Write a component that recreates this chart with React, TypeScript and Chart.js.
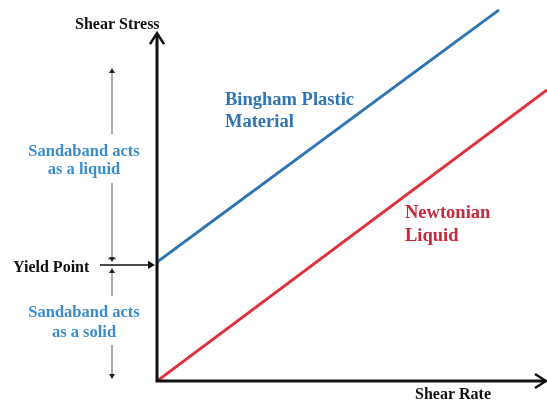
import React, { useEffect, useRef } from "react";
import { Chart, registerables } from "chart.js";

Chart.register(...registerables);

// Data (shear rate vs shear stress, arbitrary units)
const binghamRate = [0, 8.77];
const binghamStress = [3.12, 9.74];
const newtonianRate = [0, 10];
const newtonianStress = [0, 7.64];
const yieldPoint = 3.1;
const axisTop = 9.13;

const SERIF = "'Liberation Serif', 'Times New Roman', serif";
const BLUE = "#2f74b3";
const RED = "#e0303a";

function chevron(ctx: CanvasRenderingContext2D, x: number, y: number, dir: "up" | "right", w: number, h: number) {
  ctx.beginPath();
  if (dir === "up") {
    ctx.moveTo(x - w, y + h);
    ctx.lineTo(x, y);
    ctx.lineTo(x + w, y + h);
  } else {
    ctx.moveTo(x - h, y - w);
    ctx.lineTo(x, y);
    ctx.lineTo(x - h, y + w);
  }
  ctx.stroke();
}

function tri(ctx: CanvasRenderingContext2D, x: number, y: number, dir: "up" | "down" | "right", s: number) {
  ctx.beginPath();
  if (dir === "up") {
    ctx.moveTo(x, y);
    ctx.lineTo(x - s * 0.6, y + s);
    ctx.lineTo(x + s * 0.6, y + s);
  } else if (dir === "down") {
    ctx.moveTo(x, y);
    ctx.lineTo(x - s * 0.6, y - s);
    ctx.lineTo(x + s * 0.6, y - s);
  } else {
    ctx.moveTo(x, y);
    ctx.lineTo(x - s, y - s * 0.6);
    ctx.lineTo(x - s, y + s * 0.6);
  }
  ctx.closePath();
  ctx.fill();
}

const annotations = {
  id: "annotations",
  afterDraw(chart: any) {
    const ctx: CanvasRenderingContext2D = chart.ctx;
    const xs = chart.scales.x;
    const ys = chart.scales.y;
    const x0 = xs.getPixelForValue(0);
    const y0 = ys.getPixelForValue(0);
    const yTop = ys.getPixelForValue(axisTop);
    const xRight = chart.chartArea.right - 1;
    const yYield = ys.getPixelForValue(yieldPoint);
    ctx.save();
    // axes
    ctx.strokeStyle = "#111";
    ctx.lineWidth = 3;
    ctx.lineCap = "butt";
    ctx.beginPath();
    ctx.moveTo(x0, yTop + 2);
    ctx.lineTo(x0, y0);
    ctx.lineTo(xRight, y0);
    ctx.stroke();
    ctx.lineWidth = 2.5;
    chevron(ctx, x0, yTop, "up", 7, 11);
    chevron(ctx, xRight, y0, "right", 7, 11);

    // axis titles
    ctx.fillStyle = "#111";
    ctx.font = `bold 16px ${SERIF}`;
    ctx.textBaseline = "middle";
    ctx.textAlign = "left";
    ctx.fillText("Shear Stress", 75, 25);
    ctx.fillText("Shear Rate", 415, 395);

    // yield point arrow
    ctx.lineWidth = 1.5;
    ctx.beginPath();
    ctx.moveTo(100, yYield + 2);
    ctx.lineTo(x0 - 6, yYield + 2);
    ctx.stroke();
    tri(ctx, x0 - 2, yYield + 2, "right", 7);
    ctx.fillText("Yield Point", 13, yYield + 5);

    // vertical range line
    const lx = 112;
    ctx.strokeStyle = "#555";
    ctx.fillStyle = "#222";
    ctx.lineWidth = 1;
    ctx.beginPath();
    ctx.moveTo(lx, 72);
    ctx.lineTo(lx, 134);
    ctx.moveTo(lx, 183);
    ctx.lineTo(lx, yYield - 4);
    ctx.moveTo(lx, yYield - 3);
    ctx.lineTo(lx + 0, yYield - 3);
    ctx.moveTo(lx, yYield + 10);
    ctx.lineTo(lx, 296);
    ctx.moveTo(lx, 345);
    ctx.lineTo(lx, 376);
    ctx.moveTo(lx - 4, yYield - 4);
    ctx.lineTo(lx + 4, yYield - 4);
    ctx.stroke();
    tri(ctx, lx, 68, "up", 5);
    tri(ctx, lx, yYield - 1, "down", 5);
    tri(ctx, lx, yYield + 5, "up", 5);
    tri(ctx, lx, 379, "down", 5);

    // blue range labels
    ctx.fillStyle = "#3a8ccc";
    ctx.font = `bold 16.5px ${SERIF}`;
    ctx.textAlign = "center";
    ctx.fillText("Sandaband acts", 84, 152);
    ctx.fillText("as a liquid", 84, 170);
    ctx.fillText("Sandaband acts", 84, 313);
    ctx.fillText("as a solid", 84, 333);

    // series labels
    ctx.textAlign = "left";
    ctx.font = `bold 18.5px ${SERIF}`;
    ctx.fillStyle = BLUE;
    ctx.fillText("Bingham Plastic", 225, 100);
    ctx.fillText("Material", 225, 122);
    ctx.fillStyle = "#c8283a";
    ctx.fillText("Newtonian", 405, 213);
    ctx.fillText("Liquid", 405, 236);
    ctx.restore();
  },
};

export default function App() {
  const ref = useRef<HTMLCanvasElement>(null);
  useEffect(() => {
    if (!ref.current) return;
    const chart = new Chart(ref.current, {
      type: "scatter",
      data: {
        datasets: [
          {
            label: "Bingham Plastic Material",
            data: binghamRate.map((x, i) => ({ x, y: binghamStress[i] })),
            showLine: true,
            borderColor: BLUE,
            borderWidth: 3,
            pointRadius: 0,
          },
          {
            label: "Newtonian Liquid",
            data: newtonianRate.map((x, i) => ({ x, y: newtonianStress[i] })),
            showLine: true,
            borderColor: RED,
            borderWidth: 3,
            pointRadius: 0,
          },
        ],
      },
      options: {
        animation: false,
        responsive: true,
        maintainAspectRatio: false,
        layout: { padding: { left: 157, right: 0, top: 0, bottom: 24 } },
        plugins: { legend: { display: false }, tooltip: { enabled: false } },
        scales: {
          x: { type: "linear", min: 0, max: 10, display: false },
          y: { type: "linear", min: 0, max: 10, display: false },
        },
      },
      plugins: [annotations],
    });
    return () => chart.destroy();
  }, []);
  return (
    <div style={{ position: "fixed", left: 0, top: 0, width: 547, height: 405, background: "#fff" }}>
      <canvas ref={ref} />
    </div>
  );
}
